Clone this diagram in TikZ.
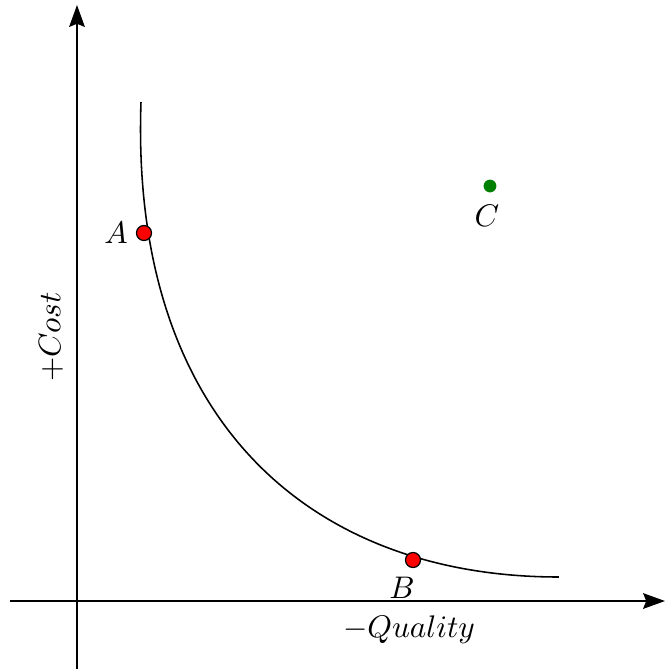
\documentclass[tikz,border=0pt]{standalone}
\usepackage{amssymb}
\usetikzlibrary{arrows.meta}

\tikzset{
	axisline/.style={semithick, -{Stealth[length=7pt, width=5pt, inset=1pt]}},
	optdot/.style={circle, draw=black, fill=red, inner sep=0pt, minimum size=4.8pt},
	subdot/.style={circle, fill=green!50!black, inner sep=0pt, minimum size=4.1pt}
}

\begin{document}
\begin{tikzpicture}[x=0.32pt, y=-0.32pt]
			\useasboundingbox (0,0) rectangle (665,669);
			
			% axes
			\coordinate (xstart) at (10,601); \coordinate (xend) at (665,601);
			\coordinate (ystart) at (77,669); \coordinate (yend) at (77,5);
			\draw[axisline] (xstart) -- (xend);
			\draw[axisline] (ystart) -- (yend);
			\node[rotate=90] (costlabel) at (51,337) {$+Cost$};
			\node (qualitylabel) at (409,630) {$-Quality$};
			
			% front
			\coordinate (fronttop) at (141,102); \coordinate (frontend) at (559,577);
			\draw[line width=0.5pt] (fronttop) .. controls (130,420) and (310,577) .. (frontend);
			
			\node[optdot] (ptA) at (144,233) {}; \node (labA) at (116,233) {$A$};
			\node[optdot] (ptB) at (413,560) {}; \node (labB) at (402,588) {$B$};
			\node[subdot] (ptC) at (490,186) {}; \node (labC) at (487,216) {$C$};
		\end{tikzpicture}
\end{document}
